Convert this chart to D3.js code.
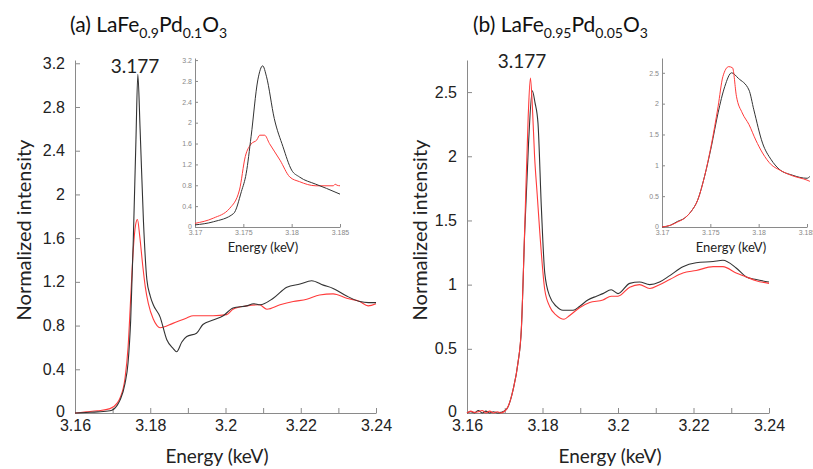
<!DOCTYPE html>
<html>
<head>
<meta charset="utf-8">
<script src="https://cdn.jsdelivr.net/npm/d3@7"></script>
<style>
  body { margin: 0; background: #fff; }
  svg { display: block; }
</style>
</head>
<body>
<div id="paper"></div>
<script>
// values: [energy keV, normalized intensity]

// (a) LaFe0.9Pd0.1O3, full range
var a_black = [[3.160,0.00],[3.163,0.005],[3.166,0.01],[3.1693,0.02],[3.1712,0.07],[3.172,0.12],[3.1733,0.27],[3.1741,0.46],
  [3.1748,0.85],[3.1755,1.59],[3.1762,2.5],[3.1767,3.1],[3.1773,2.6],[3.1782,1.75],[3.1791,1.22],[3.18,1.07],
  [3.1808,0.99],[3.1826,0.88],[3.1844,0.67],[3.1861,0.59],[3.187,0.56],[3.1884,0.65],[3.1897,0.70],[3.1923,0.73],
  [3.194,0.81],[3.1967,0.85],[3.1994,0.89],[3.202,0.96],[3.2056,0.98],[3.2075,1.0],[3.2092,0.99],[3.2127,1.05],
  [3.2163,1.15],[3.2198,1.18],[3.2229,1.21],[3.226,1.17],[3.2286,1.14],[3.2322,1.07],[3.2357,1.02],[3.238,1.01],[3.24,1.01]]
var a_red = [[3.160,0.00],[3.163,0.01],[3.166,0.02],[3.1693,0.04],[3.1712,0.09],[3.172,0.14],[3.1733,0.32],[3.1741,0.6],
  [3.1748,1.05],[3.1755,1.5],[3.1761,1.72],[3.1766,1.77],[3.1772,1.62],[3.178,1.35],[3.1787,1.15],[3.1795,1.0],
  [3.1808,0.86],[3.1818,0.80],[3.1826,0.78],[3.186,0.82],[3.1897,0.87],[3.1914,0.89],[3.1967,0.89],[3.2003,0.90],
  [3.202,0.95],[3.2056,0.98],[3.209,0.99],[3.211,0.95],[3.2145,0.99],[3.218,1.02],[3.2216,1.04],[3.225,1.08],
  [3.2286,1.09],[3.2322,1.05],[3.2357,1.02],[3.2379,0.98],[3.24,1.0]]

// (a) inset, 3.17 - 3.185
var a_inset_black = [[3.17,0.04],[3.1719,0.1],[3.174,0.26],[3.1748,0.68],[3.1753,1.03],[3.1758,1.73],[3.1765,2.82],
  [3.177,3.09],[3.1774,2.88],[3.1782,2.08],[3.1791,1.54],[3.18,1.09],[3.1808,0.96],[3.1825,0.82],[3.1836,0.74],[3.185,0.63]]
var a_inset_red = [[3.17,0.07],[3.1719,0.17],[3.1736,0.36],[3.1746,0.71],[3.1752,1.35],[3.1758,1.59],[3.1764,1.67],
  [3.1767,1.76],[3.1772,1.76],[3.1777,1.6],[3.1788,1.28],[3.1798,0.96],[3.1808,0.87],[3.1825,0.79],[3.1843,0.79],
  [3.1845,0.82],[3.1847,0.80],[3.185,0.79]]

// (b) LaFe0.95Pd0.05O3, full range
var b_black = [[3.16,0],[3.161,0.01],[3.162,0],[3.163,0.02],[3.164,0.0],[3.165,0.015],[3.166,0],[3.167,0.01],[3.168,0],
  [3.169,0.005],[3.1705,0.03],[3.1722,0.18],[3.1735,0.39],[3.1744,0.65],[3.1753,1.42],[3.1763,2.1],[3.1773,2.51],
  [3.178,2.42],[3.1788,2.26],[3.1797,1.6],[3.1806,1.09],[3.1819,0.91],[3.1837,0.83],[3.1854,0.80],[3.1881,0.80],
  [3.1898,0.83],[3.192,0.88],[3.1943,0.91],[3.196,0.93],[3.1982,0.96],[3.2,0.93],[3.2031,1.01],[3.2057,1.02],
  [3.2084,1.00],[3.211,1.02],[3.2137,1.07],[3.2172,1.14],[3.2207,1.17],[3.2252,1.18],[3.2278,1.19],[3.2313,1.13],
  [3.234,1.06],[3.2366,1.04],[3.24,1.02]]
var b_red = [[3.16,0],[3.161,0.015],[3.162,0.005],[3.163,0.01],[3.164,0.02],[3.165,0],[3.166,0.015],[3.167,0],[3.168,0.01],
  [3.169,0],[3.1705,0.03],[3.1722,0.18],[3.1735,0.39],[3.1744,0.66],[3.1753,1.45],[3.1762,2.3],[3.1768,2.61],
  [3.1773,2.4],[3.1779,2.0],[3.1786,1.7],[3.1793,1.40],[3.1806,0.96],[3.1819,0.83],[3.1837,0.76],[3.1857,0.73],
  [3.1872,0.76],[3.1898,0.82],[3.1925,0.86],[3.196,0.88],[3.1982,0.91],[3.2,0.91],[3.2031,0.98],[3.2057,1.0],
  [3.2084,0.97],[3.211,1.0],[3.2137,1.04],[3.2172,1.09],[3.2207,1.11],[3.2252,1.14],[3.2278,1.14],[3.2313,1.09],
  [3.234,1.06],[3.2366,1.03],[3.24,1.01]]

// (b) inset
var b_inset_black = [[3.17,0],[3.1709,0.03],[3.1716,0.09],[3.1723,0.14],[3.173,0.25],[3.1737,0.44],[3.1744,0.82],
  [3.1751,1.30],[3.1758,1.85],[3.1765,2.28],[3.1772,2.50],[3.1779,2.41],[3.179,2.22],[3.1795,1.90],[3.1804,1.36],
  [3.1813,1.09],[3.1821,0.94],[3.1835,0.84],[3.185,0.79],[3.1853,0.82]]
var b_inset_red = [[3.17,0],[3.1709,0.03],[3.1716,0.08],[3.1723,0.14],[3.173,0.25],[3.1737,0.44],[3.1744,0.82],
  [3.1751,1.33],[3.1758,1.95],[3.1763,2.44],[3.1769,2.60],[3.1773,2.58],[3.1777,2.12],[3.1783,1.85],[3.179,1.66],
  [3.1797,1.41],[3.1804,1.20],[3.1813,1.01],[3.1821,0.93],[3.1835,0.83],[3.185,0.76],[3.1853,0.74]]

// ticks
var main_x_ticks = [3.16,3.17,3.18,3.19,3.2,3.21,3.22,3.23,3.24]
var a_y_ticks = [0,0.4,0.8,1.2,1.6,2,2.4,2.8,3.2]
var b_y_ticks = [0,0.5,1,1.5,2,2.5]
var inset_x_ticks = [3.17,3.175,3.18,3.185]

var svg = d3.select('#paper').append('svg')
  .attr('width', 813).attr('height', 469)
  .style('background-color', '#fff')

var fmt = d3.format('')

function drawPlot(o) {
  var x = d3.scaleLinear().domain(o.xDomain).range(o.xRange)
  var y = d3.scaleLinear().domain(o.yDomain).range(o.yRange)
  var g = svg.append('g')

  var xAxis = d3.axisBottom(x).tickValues(o.xTicks).tickSizeInner(-o.tick).tickSizeOuter(0)
    .tickPadding(o.xPad)
    .tickFormat(function(d, i) { return (o.everyOther && i % 2) ? '' : fmt(d) })
  var yAxis = d3.axisLeft(y).tickValues(o.yTicks).tickSizeInner(-o.tick).tickSizeOuter(0)
    .tickPadding(o.yPad).tickFormat(fmt)

  var gx = g.append('g').attr('transform', 'translate(0,' + o.yRange[0] + ')').call(xAxis)
  var gy = g.append('g').attr('transform', 'translate(' + o.xRange[0] + ',0)').call(yAxis)
  ;[gx, gy].forEach(function(a) {
    a.select('.domain').attr('stroke', '#8a8a8a')
    a.selectAll('.tick line').attr('stroke', '#8a8a8a')
    a.selectAll('.tick text')
      .attr('fill', o.labelColor)
      .style('font-family', '"Liberation Sans", Arial, sans-serif')
      .style('font-size', o.fontSize + 'px')
  })
  // keep the "0" of the y axis just above the x labels
  gy.selectAll('.tick text').filter(function(d) { return d === 0 }).attr('dy', '0.2em')

  var line = d3.line()
    .curve(d3.curveMonotoneX)
    .x(function(d) { return x(d[0]) })
    .y(function(d) { return y(d[1]) })

  o.series.forEach(function(s) {
    g.append('path')
      .datum(s.data)
      .attr('fill', 'none')
      .attr('stroke', s.color)
      .attr('stroke-width', o.lineWidth)
      .attr('stroke-linejoin', 'round')
      .attr('d', line)
  })
  return g
}

var BLACK = '#333333', RED = '#ff3b3b'

// main plots
drawPlot({ xDomain: [3.16, 3.24], xRange: [75, 376], yDomain: [0, 3.23], yRange: [413, 60],
  xTicks: main_x_ticks, yTicks: a_y_ticks, everyOther: true, tick: 5, xPad: 7, yPad: 10,
  fontSize: 16, labelColor: '#222', lineWidth: 1.1,
  series: [{ data: a_red, color: RED }, { data: a_black, color: BLACK }] })

drawPlot({ xDomain: [3.16, 3.24], xRange: [467, 769], yDomain: [0, 2.75], yRange: [413, 60],
  xTicks: main_x_ticks, yTicks: b_y_ticks, everyOther: true, tick: 5, xPad: 7, yPad: 10,
  fontSize: 16, labelColor: '#222', lineWidth: 1.1,
  series: [{ data: b_black, color: BLACK }, { data: b_red, color: RED }] })

// insets
drawPlot({ xDomain: [3.17, 3.185], xRange: [195, 340], yDomain: [0, 3.24], yRange: [227, 58],
  xTicks: inset_x_ticks, yTicks: a_y_ticks, everyOther: false, tick: 3, xPad: 3, yPad: 3,
  fontSize: 7, labelColor: '#888', lineWidth: 1,
  series: [{ data: a_inset_red, color: RED }, { data: a_inset_black, color: BLACK }] })

drawPlot({ xDomain: [3.17, 3.185], xRange: [662, 807], yDomain: [0, 2.74], yRange: [227, 58],
  xTicks: inset_x_ticks, yTicks: b_y_ticks, everyOther: false, tick: 3, xPad: 3, yPad: 3,
  fontSize: 7, labelColor: '#888', lineWidth: 1,
  series: [{ data: b_inset_black, color: BLACK }, { data: b_inset_red, color: RED }] })

// text
var FONT = 'Lato, "Open Sans", sans-serif'

function label(x, y, txt, size, rotate, anchor) {
  var t = svg.append('text')
    .attr('x', x).attr('y', y)
    .attr('text-anchor', anchor || 'middle')
    .style('font-family', FONT)
    .style('font-size', size + 'px')
    .attr('fill', '#222')
    .text(txt)
  if (rotate) t.attr('transform', 'rotate(-90,' + x + ',' + y + ')')
  return t
}

label(217, 463, 'Energy (keV)', 19)
label(610, 463, 'Energy (keV)', 19)
label(31, 230, 'Normalized intensity', 20, true)
label(427, 230, 'Normalized intensity', 20, true)
label(263, 252, 'Energy (keV)', 13)
label(731, 252, 'Energy (keV)', 13)
label(135, 73, '3.177', 19)
label(522, 68, '3.177', 19)

// titles with subscripts
function title(x, y, parts) {
  var t = svg.append('text').attr('x', x).attr('y', y)
    .style('font-family', FONT).attr('fill', '#111')
  var shift = 0
  parts.forEach(function(p) {
    var want = p.sub ? 6 : 0
    t.append('tspan')
      .attr('dy', want - shift)
      .style('font-size', (p.sub ? 14 : 21) + 'px')
      .text(p.t)
    shift = want
  })
}
title(70, 32, [{t: '(a) LaFe'}, {t: '0.9', sub: 1}, {t: 'Pd'}, {t: '0.1', sub: 1}, {t: 'O'}, {t: '3', sub: 1}])
title(473, 32, [{t: '(b) LaFe'}, {t: '0.95', sub: 1}, {t: 'Pd'}, {t: '0.05', sub: 1}, {t: 'O'}, {t: '3', sub: 1}])
</script>
</body>
</html>
